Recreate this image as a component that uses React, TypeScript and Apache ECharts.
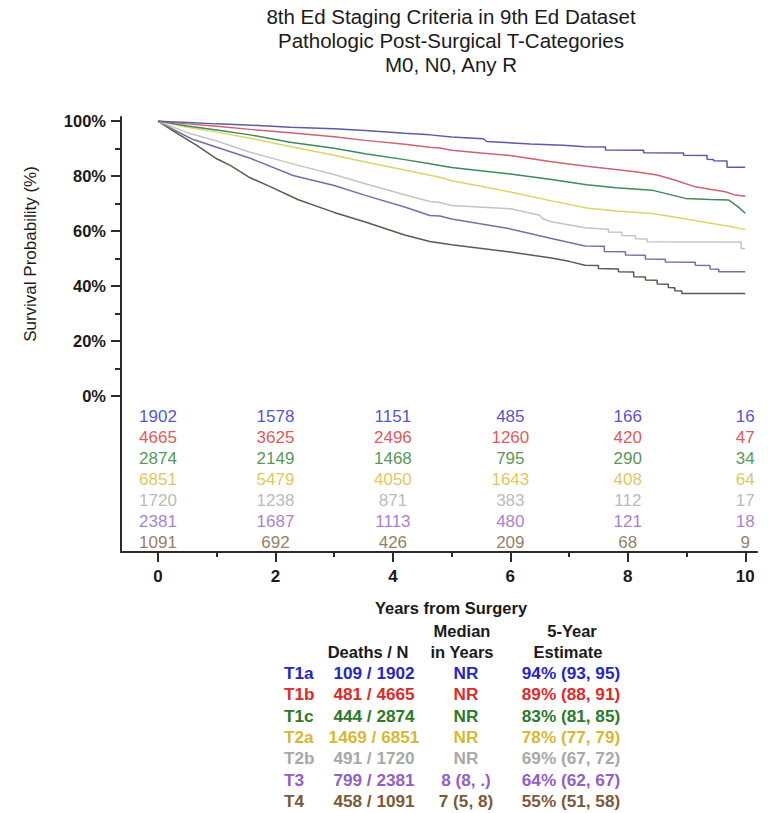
import React, { useEffect, useRef } from "react";
import * as echarts from "echarts";

const groups = ["T1a", "T1b", "T1c", "T2a", "T2b", "T3", "T4"];
const curveColors = ["#5b5ba6", "#d3606e", "#3f8a5a", "#dcd466", "#c4c4c4", "#7a6ca8", "#5d5a4c"];
const textColors = ["#2525c8", "#dd2a2a", "#2a7a2a", "#d8b830", "#a8a8a8", "#9060c8", "#7a5a3a"];

const titleLines = [
  "8th Ed Staging Criteria in 9th Ed Dataset",
  "Pathologic Post-Surgical T-Categories",
  "M0, N0, Any R",
];
const yAxisTitle = "Survival Probability (%)";
const xAxisTitle = "Years from Surgery";

const yTicks = [0, 20, 40, 60, 80, 100];
const yMinor = [10, 30, 50, 70, 90];
const xTicks = [0, 2, 4, 6, 8, 10];
const xMinor = [1, 3, 5, 7, 9];

// Kaplan-Meier curves [years, survival %]
const t1a = [[0,100],[0.5,99.5],[1,99],[1.5,98.6],[2.25,97.8],[3,97.2],[3.53,96.6],[4.2,95.6],[4.63,95],[5,94.2],[5.54,93.6],[5.6,92.6],[6.34,91.7],[6.9,91.2],[7.27,90.7],[7.62,90.6],[7.62,89.5],[8.27,89.4],[8.27,88.5],[8.95,88.4],[8.95,87.6],[9.35,87.5],[9.35,86.1],[9.46,86],[9.46,85.6],[9.69,85.5],[9.69,83.2],[10,83.2]];
const t1b = [[0,100],[0.5,99],[1,98.1],[1.57,97],[2.25,95.8],[3,94.3],[3.53,93],[4.2,91.6],[4.63,90.5],[4.8,90.2],[5,89.4],[5.5,88.4],[6,87.5],[6.7,85.2],[7.3,83.6],[8.13,81.6],[8.5,80.4],[8.81,78.5],[9.15,76.1],[9.4,75.2],[9.66,74.3],[9.83,73.1],[10,72.7]];
const t1c = [[0,100],[0.5,98.2],[1,96.8],[1.57,95],[2.25,92.3],[3,90.1],[3.53,88.1],[4.2,86],[4.63,84.5],[4.8,83.9],[5,83.1],[6,80.8],[6.7,78.8],[7.3,76.9],[7.8,75.8],[8.41,74.9],[8.98,71.9],[9.4,71.5],[9.72,71.3],[9.88,68.8],[10,66.5]];
const t2a = [[0,100],[0.5,97.8],[1,96],[1.57,93.8],[2.25,90.8],[3,87.6],[3.53,85.1],[4.2,82.2],[4.63,80.3],[4.8,79.6],[5,78.3],[5.5,76.3],[6,74.2],[6.7,71],[7.3,68.4],[7.8,67.3],[8.41,66.4],[8.9,64.8],[9.26,63.4],[9.77,61.6],[9.9,61],[10,60.6]];
const t2b = [[0,100],[0.5,95.8],[1,92.8],[1.57,88.7],[2.39,83.9],[3,80.6],[3.53,77.2],[4.2,73.2],[4.63,70.8],[4.8,70.4],[5,69.3],[6,68.1],[6.5,65.8],[6.55,64.5],[6.7,63.4],[7.27,61.2],[7.67,60.7],[7.67,59.7],[7.9,59.6],[7.9,58.4],[8.13,58.3],[8.13,57.2],[8.33,57.1],[8.33,56.1],[9.93,56],[9.93,53.7],[10,53.7]];
const t3 = [[0,100],[0.3,96.5],[0.6,93.3],[1,90.5],[1.57,86.5],[2.3,80.2],[3,76.6],[3.53,73],[4.2,68.8],[4.63,65.7],[4.8,65.5],[5,64.4],[6,60.8],[6.7,57.3],[7.27,54.6],[7.6,54.5],[7.6,52.6],[7.96,52.5],[7.96,51.3],[8.3,51.2],[8.3,49.9],[8.64,49.8],[8.64,48.8],[9.15,48.7],[9.15,47.6],[9.4,47.5],[9.4,46.2],[9.55,46.1],[9.55,45.2],[10,45.2]];
const t4 = [[0,100],[0.29,96],[0.66,91.2],[1,86.3],[1.23,83.9],[1.57,79.4],[1.91,76.2],[2.39,71.4],[3,66.8],[3.53,63.3],[4.2,58.6],[4.63,56.2],[5,55],[6,52.4],[6.7,50.2],[7,49],[7.27,47.6],[7.5,47.5],[7.5,46.4],[7.84,46.2],[7.84,45.2],[8.1,45.1],[8.1,43.4],[8.3,43.3],[8.3,42.2],[8.5,42.1],[8.5,40.8],[8.69,40.7],[8.69,39.5],[8.8,39.4],[8.8,38.3],[8.92,38.2],[8.92,37.3],[10,37.3]];
const curves = [t1a, t1b, t1c, t2a, t2b, t3, t4];

// numbers at risk at years 0,2,4,6,8,10
const riskYears = [0, 2, 4, 6, 8, 10];
const riskT1a = [1902, 1578, 1151, 485, 166, 16];
const riskT1b = [4665, 3625, 2496, 1260, 420, 47];
const riskT1c = [2874, 2149, 1468, 795, 290, 34];
const riskT2a = [6851, 5479, 4050, 1643, 408, 64];
const riskT2b = [1720, 1238, 871, 383, 112, 17];
const riskT3 = [2381, 1687, 1113, 480, 121, 18];
const riskT4 = [1091, 692, 426, 209, 68, 9];
const atRisk = [riskT1a, riskT1b, riskT1c, riskT2a, riskT2b, riskT3, riskT4];

// summary table
const statHeaders = ["Deaths / N", "Median", "in Years", "5-Year", "Estimate"];
const deathsN = ["109 / 1902", "481 / 4665", "444 / 2874", "1469 / 6851", "491 / 1720", "799 / 2381", "458 / 1091"];
const medians = ["NR", "NR", "NR", "NR", "NR", "8 (8, .)", "7 (5, 8)"];
const estimates = ["94% (93, 95)", "89% (88, 91)", "83% (81, 85)", "78% (77, 79)", "69% (67, 72)", "64% (62, 67)", "55% (51, 58)"];

const FONT = "'Liberation Sans', Arial, sans-serif";

export default function App() {
  const ref = useRef<HTMLDivElement>(null);
  useEffect(() => {
    if (!ref.current) return;
    const chart = echarts.init(ref.current, null, { renderer: "svg" });

    const axisColor = "#2a2a2a";
    const rowY = (k: number) => -(7.5 + 7.6 * k);

    const lineSeries = curves.map((c, i) => ({
      type: "line",
      name: groups[i],
      data: c,
      showSymbol: false,
      symbol: "none",
      xAxisIndex: 0,
      yAxisIndex: 0,
      lineStyle: { color: curveColors[i], width: 1.5 },
      z: 3 + (6 - i),
    }));

    const riskSeries = atRisk.map((row, g) => ({
      type: "scatter",
      name: groups[g] + " at risk",
      xAxisIndex: 0,
      yAxisIndex: 0,
      symbol: "circle",
      symbolSize: 1,
      itemStyle: { color: "rgba(0,0,0,0)" },
      data: row.map((n, i) => [riskYears[i], rowY(g), n]),
      label: {
        show: true,
        position: "inside",
        formatter: (p: any) => String(p.value[2]),
        color: textColors[g],
        fontSize: 17,
        fontFamily: FONT,
      },
    }));

    const gfx: any[] = [];
    titleLines.forEach((t, i) => {
      gfx.push({
        type: "text",
        x: 451,
        y: 16.5 + 24 * i,
        style: { text: t, fill: "#1a1a1a", font: `20.5px ${FONT}`, textAlign: "center", textVerticalAlign: "middle" },
      });
    });
    gfx.push({
      type: "text",
      x: 30,
      y: 254,
      rotation: Math.PI / 2,
      style: { text: yAxisTitle, fill: "#1a1a1a", font: `17px ${FONT}`, textAlign: "center", textVerticalAlign: "middle" },
    });
    gfx.push({
      type: "text",
      x: 451,
      y: 608,
      style: { text: xAxisTitle, fill: "#1a1a1a", font: `bold 16.5px ${FONT}`, textAlign: "center", textVerticalAlign: "middle" },
    });
    const headerPos = [
      [368, 652],
      [462, 631],
      [462, 652],
      [572, 631],
      [568, 652],
    ];
    statHeaders.forEach((h, i) => {
      gfx.push({
        type: "text",
        x: headerPos[i][0],
        y: headerPos[i][1],
        style: { text: h, fill: "#1a1a1a", font: `bold 16.5px ${FONT}`, textAlign: "center", textVerticalAlign: "middle" },
      });
    });
    groups.forEach((g, i) => {
      const y = 673 + 21.3 * i;
      const col = textColors[i];
      const f = `bold 17.2px ${FONT}`;
      gfx.push({ type: "text", x: 284, y, style: { text: g, fill: col, font: f, textAlign: "left", textVerticalAlign: "middle" } });
      gfx.push({ type: "text", x: 374, y, style: { text: deathsN[i], fill: col, font: f, textAlign: "center", textVerticalAlign: "middle" } });
      gfx.push({ type: "text", x: 466, y, style: { text: medians[i], fill: col, font: f, textAlign: "center", textVerticalAlign: "middle" } });
      gfx.push({ type: "text", x: 571, y, style: { text: estimates[i], fill: col, font: f, textAlign: "center", textVerticalAlign: "middle" } });
    });

    const xMin = -0.63;
    const xMax = 10.2;
    const yMin = -56.7;
    const yMax = 101.5;

    chart.setOption({
      animation: false,
      backgroundColor: "#ffffff",
      grid: { left: 121, right: 11, top: 117, bottom: 261, containLabel: false },
      xAxis: [
        {
          type: "value",
          min: xMin,
          max: xMax,
          position: "bottom",
          axisLine: { show: true, onZero: false, lineStyle: { color: axisColor, width: 2 } },
          axisTick: { show: true, customValues: xTicks, length: 10, inside: false, lineStyle: { color: axisColor, width: 2 } },
          axisLabel: { show: true, customValues: xTicks, margin: 16, color: "#1a1a1a", fontSize: 17, fontWeight: "bold", fontFamily: FONT },
          splitLine: { show: false },
        },
        {
          type: "value",
          min: xMin,
          max: xMax,
          position: "bottom",
          axisLine: { show: false, onZero: false },
          axisTick: { show: true, customValues: xMinor, length: 5, lineStyle: { color: axisColor, width: 2 } },
          axisLabel: { show: false },
          splitLine: { show: false },
        },
      ],
      yAxis: [
        {
          type: "value",
          min: yMin,
          max: yMax,
          position: "left",
          axisLine: { show: true, onZero: false, lineStyle: { color: axisColor, width: 2 } },
          axisTick: { show: true, customValues: yTicks, length: 10, lineStyle: { color: axisColor, width: 2 } },
          axisLabel: { show: true, customValues: yTicks, margin: 15, formatter: "{value}%", color: "#1a1a1a", fontSize: 16.5, fontWeight: "bold", fontFamily: FONT },
          splitLine: { show: false },
        },
        {
          type: "value",
          min: yMin,
          max: yMax,
          position: "left",
          axisLine: { show: false, onZero: false },
          axisTick: { show: true, customValues: yMinor, length: 6, lineStyle: { color: axisColor, width: 2 } },
          axisLabel: { show: false },
          splitLine: { show: false },
        },
      ],
      series: [...lineSeries, ...riskSeries],
      graphic: gfx,
    });
    return () => chart.dispose();
  }, []);
  return <div ref={ref} style={{ position: "absolute", left: 0, top: 0, width: 768, height: 813 }} />;
}
